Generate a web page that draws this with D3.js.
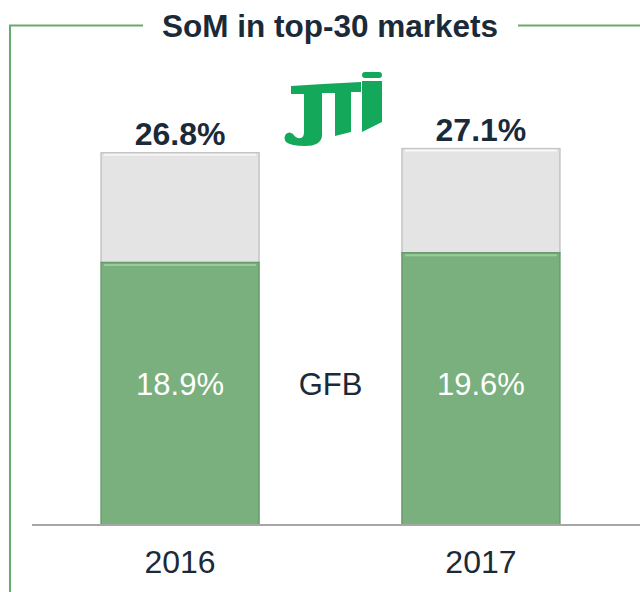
<!DOCTYPE html>
<html>
<head>
<meta charset="utf-8">
<script src="https://cdn.jsdelivr.net/npm/d3@7"></script>
<style>
  body { margin: 0; background: #fff; }
  svg { display: block; font-family: "Liberation Sans", Arial, sans-serif; }
</style>
</head>
<body>
<svg id="chart"></svg>
<script>
// chart data
var years = ["2016", "2017"];
var gfbShare = [18.9, 19.6];     // GFB part (green)
var totalShare = [26.8, 27.1];   // total SoM (label on top)
var title = "SoM in top-30 markets";
var midLabel = "GFB";

var width = 640,
    height = 592,
    baseY = 525;

var textDark = "#1b2a38",
    frameGreen = "#6aaa6e",
    barGreen = "#7ab07e",
    barGray = "#e4e4e4";

var svg = d3.select("#chart")
    .attr("width", width)
    .attr("height", height);

var x = d3.scaleBand()
    .domain(years)
    .range([71, 590])
    .paddingInner(0.475)
    .paddingOuter(0.1);

var y = d3.scaleLinear()
    .domain([0, 37.8])
    .range([baseY, 0]);

// frame lines round the title
svg.append("path")
    .attr("d", "M143,25.5 H10 V592")
    .style("fill", "none")
    .style("stroke", frameGreen)
    .style("stroke-width", 2);
svg.append("line")
    .attr("x1", 518).attr("x2", width)
    .attr("y1", 25.5).attr("y2", 25.5)
    .style("stroke", frameGreen)
    .style("stroke-width", 2);

svg.append("text")
    .attr("x", 330)
    .attr("y", 37)
    .attr("text-anchor", "middle")
    .style("font-size", "31.5px")
    .style("font-weight", "bold")
    .style("fill", textDark)
    .text(title);

// bars
var bars = svg.selectAll(".bar")
    .data(years)
    .enter().append("g")
    .attr("class", "bar");

// gray (rest of total)
bars.append("rect")
    .attr("x", function(d) { return x(d); })
    .attr("width", x.bandwidth())
    .attr("y", function(d, i) { return y(totalShare[i]); })
    .attr("height", function(d, i) { return y(gfbShare[i]) - y(totalShare[i]); })
    .style("fill", barGray)
    .style("stroke", "#c4c4c4")
    .style("stroke-width", 1.5);

bars.append("line")
    .attr("x1", function(d) { return x(d) + 3; })
    .attr("x2", function(d) { return x(d) + x.bandwidth() - 3; })
    .attr("y1", function(d, i) { return y(totalShare[i]) + 2; })
    .attr("y2", function(d, i) { return y(totalShare[i]) + 2; })
    .style("stroke", "#f7f7f7")
    .style("stroke-width", 2);

// green GFB
bars.append("rect")
    .attr("x", function(d) { return x(d); })
    .attr("width", x.bandwidth())
    .attr("y", function(d, i) { return y(gfbShare[i]); })
    .attr("height", function(d, i) { return baseY - y(gfbShare[i]); })
    .style("fill", barGreen)
    .style("stroke", "#679c6c")
    .style("stroke-width", 1.5);

bars.append("line")
    .attr("x1", function(d) { return x(d) + 3; })
    .attr("x2", function(d) { return x(d) + x.bandwidth() - 3; })
    .attr("y1", function(d, i) { return y(gfbShare[i]) + 2.5; })
    .attr("y2", function(d, i) { return y(gfbShare[i]) + 2.5; })
    .style("stroke", "#9ccc9e")
    .style("stroke-width", 2);

// labels
bars.append("text")
    .attr("x", function(d) { return x(d) + x.bandwidth() / 2; })
    .attr("y", function(d, i) { return y(totalShare[i]) - 8; })
    .attr("text-anchor", "middle")
    .style("font-size", "32px")
    .style("font-weight", "bold")
    .style("fill", textDark)
    .text(function(d, i) { return totalShare[i].toFixed(1) + "%"; });

bars.append("text")
    .attr("x", function(d) { return x(d) + x.bandwidth() / 2; })
    .attr("y", 395)
    .attr("text-anchor", "middle")
    .style("font-size", "31px")
    .style("fill", "#fff")
    .text(function(d, i) { return gfbShare[i].toFixed(1) + "%"; });

svg.append("text")
    .attr("x", (x(years[0]) + x.bandwidth() + x(years[1])) / 2)
    .attr("y", 395)
    .attr("text-anchor", "middle")
    .style("font-size", "31px")
    .style("fill", textDark)
    .text(midLabel);

// baseline + year axis
svg.append("line")
    .attr("x1", 32).attr("x2", width)
    .attr("y1", baseY).attr("y2", baseY)
    .style("stroke", "#a6a6a6")
    .style("stroke-width", 2);

var axis = svg.append("g")
    .attr("transform", "translate(0," + baseY + ")")
    .call(d3.axisBottom(x).tickSize(0).tickPadding(25));
axis.select(".domain").remove();
axis.selectAll("text")
    .style("font-family", "'Liberation Sans', Arial, sans-serif")
    .style("font-size", "32px")
    .style("fill", textDark);

// JTI logo (rough shapes)
var logo = svg.append("g")
    .attr("transform", "translate(283,72)")
    .style("fill", "#14a85a");
// J
logo.append("path")
    .attr("d", "M8,14 L40,12 L40,21 L39,21 L39,64 Q38,74 22,74 Q8,74 3,70 Q0,66 3,62 Q6,59 10,62 Q13,67 18,66 Q21,65 21,60 L21,22 L8,22 Z");
// T
logo.append("path")
    .attr("d", "M40,12 L78,10 L78,20 L68,20 L68,60 L52,64 L52,21 L40,21 Z");
// i
logo.append("rect")
    .attr("x", 79).attr("y", 0)
    .attr("width", 20).attr("height", 6)
    .attr("rx", 3);
logo.append("path")
    .attr("d", "M79,9 L99,9 L99,50 L79,60 Z");
</script>
</body>
</html>
